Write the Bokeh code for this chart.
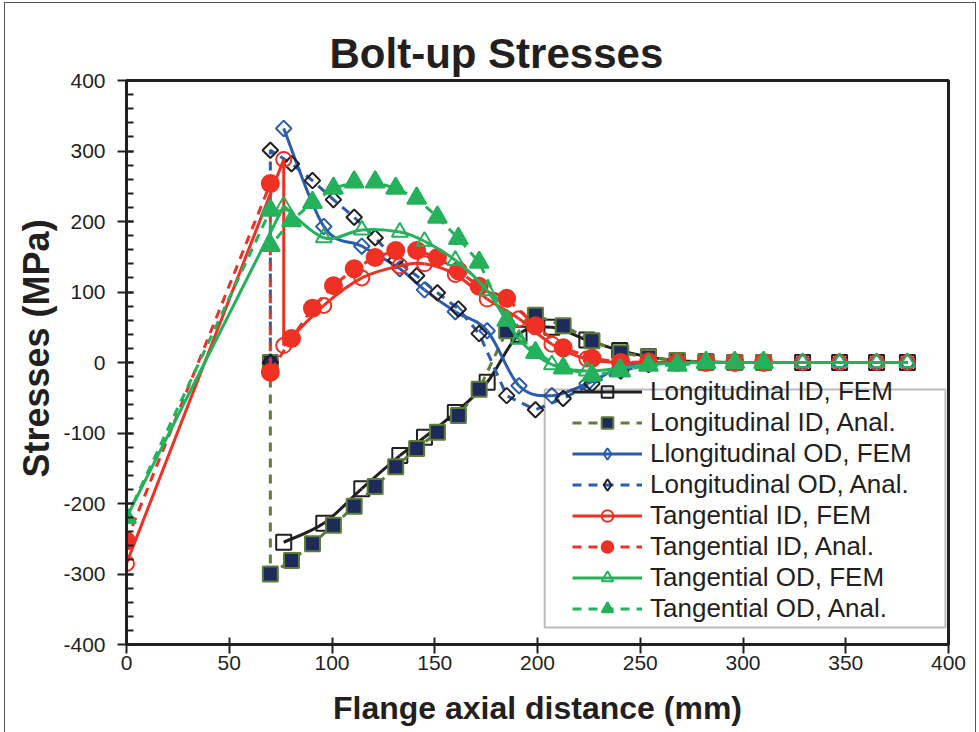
import numpy as np
from bokeh.plotting import figure
from bokeh.models import (ColumnDataSource, Legend, LegendItem, Range1d, FixedTicker,
                          BoxAnnotation, Title)
from bokeh.embed import file_html
from bokeh.resources import INLINE

# ---------------- data ----------------
fem_x_lid = [76.5, 96, 114.5, 133, 145, 160, 175.5, 191, 207, 224, 240, 254, 268, 282, 296, 310, 329, 347, 365, 380]
fem_y_lid = [-255, -228, -179, -132, -106, -71, -28, 40, 50, 32, 17, 8, 3, 1, 0, 0, 0, 0, 0, 0]

fem_x_lod = [76.5, 96, 114.5, 133, 145, 160, 175.5, 191, 207, 224, 240, 254, 268, 282, 296, 310, 329, 347, 365, 380]
fem_y_lod = [332, 193, 165, 133, 103, 72, 45, -33, -47, -30, -8, -1, 0, 0, 0, 0, 0, 0, 0, 0]

fem_x_tid = [0, 76.5, 76.5, 96, 114.5, 133, 145, 160, 175.5, 191, 207, 224, 240, 254, 268, 282, 296, 310, 329, 347, 365, 380]
fem_y_tid = [-285, 288, 24, 81, 120, 137, 140, 125, 90, 62, 26, 5, 0, 0, 0, 0, 0, 0, 0, 0, 0, 0]

fem_x_tod = [0, 76.5, 96, 114.5, 133, 145, 160, 175.5, 191, 207, 224, 240, 254, 268, 282, 296, 310, 329, 347, 365, 380]
fem_y_tod = [-220, 222, 177, 188, 185, 172, 145, 102, 33, -3, -12, -8, -3, -1, 0, 0, 0, 0, 0, 0, 0]

anal_x_lid = [70, 70, 80.3, 90.5, 100.7, 110.8, 121, 131, 141.2, 151.3, 161.5, 171.6, 185, 199, 212.5, 226.5, 240.5, 254, 268, 282, 296, 310]
anal_y_lid = [0, -300, -281, -257, -231, -204, -176, -148, -122, -99, -75, -38, 45, 67, 52, 31, 14, 7, 3, 0, 0, 0]

anal_x_lod = [70, 70, 80.3, 90.5, 100.7, 110.8, 121, 131, 141.2, 151.3, 161.5, 171.6, 185, 199, 212.5, 226.5, 240.5, 254, 268, 282, 296, 310]
anal_y_lod = [0, 301, 282, 258, 231, 206, 177, 145, 123, 99, 76, 41, -47, -67, -51, -30, -12, -3, 0, 0, 0, 0]

anal_x_tid = [0, 70, 70, 80.3, 90.5, 100.7, 110.8, 121, 131, 141.2, 151.3, 161.5, 171.6, 185, 199, 212.5, 226.5, 240.5, 254, 268, 282, 296, 310]
anal_y_tid = [-253, 254, -14, 34, 77, 109, 133, 149, 159, 159, 149, 130, 108, 91, 52, 21, 6, 0, 1, 0, 0, 0, 0]

anal_x_tod = [0, 70, 70, 80.3, 90.5, 100.7, 110.8, 121, 131, 141.2, 151.3, 161.5, 171.6, 185, 199, 212.5, 226.5, 240.5, 254, 268, 282, 296, 310]
anal_y_tod = [-220, 216, 166, 201, 227, 247, 256, 256, 247, 233, 206, 176, 142, 60, 14, -8, -18, -12, -4, -4, 0, 0, 0]

labels = ["Longitudinal ID, FEM", "Longitudinal ID, Anal.", "Llongitudinal OD, FEM",
          "Longitudinal OD, Anal.", "Tangential ID, FEM", "Tangential ID, Anal.",
          "Tangential OD, FEM", "Tangential OD, Anal."]

x_ticks = [0, 50, 100, 150, 200, 250, 300, 350, 400]
y_ticks = [-400, -300, -200, -100, 0, 100, 200, 300, 400]

# ---------------- styles ----------------
BLACK = "#231f20"
NAVY = "#1d2b5a"
OLIVE = "#5e7c3a"
BLUE = "#2b5cad"
RED = "#ee3124"
GREEN = "#25b15b"
FONT = "Liberation Sans"
DASH = "9 7"

p = figure(width=979, height=732, x_range=Range1d(0, 400), y_range=Range1d(-400, 400),
           output_backend="svg", toolbar_location=None,
           min_border_left=126, min_border_right=31, min_border_top=80, min_border_bottom=88)
p.xgrid.visible = False
p.ygrid.visible = False
p.background_fill_color = "white"
p.border_fill_color = "white"
p.outline_line_color = BLACK
p.outline_line_width = 3
# thin outer frame around the whole chart area (pure CSS, does not change layout)
p.stylesheets = [":host { position: relative; } "
                 ":host::after { content: ''; position: absolute; left: 4px; top: 2px; "
                 "right: 3px; bottom: -20px; border: 1.5px solid #555; pointer-events: none; }"]

p.title.text = "Bolt-up Stresses"
p.title.text_font = FONT
p.title.text_font_size = "42px"
p.title.text_font_style = "bold"
p.title.text_color = BLACK
p.title.align = "left"
p.title.offset = 203
p.title.standoff = 8

for ax in (p.xaxis[0], p.yaxis[0]):
    ax.axis_line_color = BLACK
    ax.axis_line_width = 3
    ax.major_tick_line_color = BLACK
    ax.major_tick_line_width = 2
    ax.minor_tick_line_color = BLACK
    ax.minor_tick_line_width = 2
    ax.major_tick_in = 7
    ax.major_tick_out = 9
    ax.minor_tick_in = 7
    ax.minor_tick_out = 0
    ax.major_label_text_font = FONT
    ax.major_label_text_font_size = "21px"
    ax.major_label_text_color = BLACK

p.xaxis.ticker = FixedTicker(ticks=x_ticks)
p.yaxis.ticker = FixedTicker(ticks=y_ticks, minor_ticks=list(range(-400, 401, 20)))
p.yaxis.major_label_overrides = {t: str(t) for t in y_ticks}
p.xaxis.major_label_standoff = 2
p.yaxis.major_label_standoff = 12
p.xaxis.axis_label = "Flange axial distance (mm)"
p.xaxis.axis_label_text_font = FONT
p.xaxis.axis_label_text_font_size = "32px"
p.xaxis.axis_label_text_font_style = "bold"
p.xaxis.axis_label_text_color = BLACK
p.xaxis.axis_label_standoff = 17

ytitle = Title(text="Stresses (MPa)", align="left", offset=167, text_font=FONT,
               text_font_size="36px", text_font_style="bold", text_color=BLACK, standoff=8)
p.add_layout(ytitle, "left")


def smooth(xs, ys):
    xs = np.asarray(xs, float)
    ys = np.asarray(ys, float)
    n = len(xs)
    d = dict(x0=[], y0=[], x1=[], y1=[], cx0=[], cy0=[], cx1=[], cy1=[])
    for i in range(n - 1):
        a = max(i - 1, 0)
        b = min(i + 2, n - 1)
        d["x0"].append(xs[i]); d["y0"].append(ys[i])
        d["x1"].append(xs[i + 1]); d["y1"].append(ys[i + 1])
        d["cx0"].append(xs[i] + (xs[i + 1] - xs[a]) / 6)
        d["cy0"].append(ys[i] + (ys[i + 1] - ys[a]) / 6)
        d["cx1"].append(xs[i + 1] - (xs[b] - xs[i]) / 6)
        d["cy1"].append(ys[i + 1] - (ys[b] - ys[i]) / 6)
    return d


def legend_proxies(xs, ys, color, dash, marker, mfill, mline, falpha):
    # hidden renderers used only to draw the legend glyphs
    lr = p.line(xs, ys, line_color=color, line_width=3, line_dash=dash, visible=False)
    sr = p.scatter(xs, ys, marker=marker, size=15, fill_color=mfill, fill_alpha=falpha,
                   line_color=mline, line_width=2, visible=False)
    return [lr, sr]


def fem_series(xs, ys, straight, color, marker, size, angle=0.0, lmarker=None):
    if straight:
        p.line(xs[:straight + 1], ys[:straight + 1], line_color=color, line_width=3)
    p.bezier(source=ColumnDataSource(smooth(xs[straight:], ys[straight:])),
             x0="x0", y0="y0", x1="x1", y1="y1", cx0="cx0", cy0="cy0", cx1="cx1", cy1="cy1",
             line_color=color, line_width=3)
    p.scatter(xs, ys, marker=marker, size=size, angle=angle, line_color=color, line_width=2,
              fill_alpha=0)
    return legend_proxies(xs, ys, color, "solid", lmarker or marker, "white", color, 0)


def anal_series(xs, ys, lcolor, marker, size, mfill, mline, angle=0.0, fill_alpha=1.0,
                lmarker=None):
    p.line(xs, ys, line_color=lcolor, line_width=3, line_dash=DASH)
    p.scatter(xs, ys, marker=marker, size=size, angle=angle, fill_color=mfill,
              fill_alpha=fill_alpha, line_color=mline, line_width=2)
    return legend_proxies(xs, ys, lcolor, DASH, lmarker or marker, mfill, mline, fill_alpha)


rs = []
rs.append(fem_series(fem_x_lid, fem_y_lid, 0, BLACK, "square", 15))
rs.append(anal_series(anal_x_lid, anal_y_lid, OLIVE, "square", 15, NAVY, OLIVE))
rs.append(fem_series(fem_x_lod, fem_y_lod, 0, BLUE, "square", 11, angle=np.pi / 4,
                      lmarker="diamond"))
rs.append(anal_series(anal_x_lod, anal_y_lod, BLUE, "square", 11, "white", BLACK,
                      angle=np.pi / 4, fill_alpha=0, lmarker="diamond"))
rs.append(fem_series(fem_x_tid, fem_y_tid, 2, RED, "circle", 15))
rs.append(anal_series(anal_x_tid, anal_y_tid, RED, "circle", 17, RED, RED))
rs.append(fem_series(fem_x_tod, fem_y_tod, 1, GREEN, "triangle", 16))
rs.append(anal_series(anal_x_tod, anal_y_tod, GREEN, "triangle", 19, GREEN, GREEN))

items = [LegendItem(label=lab, renderers=r) for lab, r in zip(labels, rs)]
legend = Legend(items=items, location=(442, 16), padding=4, spacing=0,
                glyph_width=70, glyph_height=29, label_height=29, label_standoff=8,
                label_text_font=FONT, label_text_font_size="26px", label_text_color=BLACK,
                label_text_baseline="middle",
                border_line_alpha=0, background_fill_alpha=0, margin=0)
p.add_layout(legend)

p.add_layout(BoxAnnotation(left=203.5, right=398.5, top=-38.3, bottom=-376,
                           fill_alpha=0, line_color=BLACK, line_width=2))

open("out.html", "w").write(file_html(p, INLINE))
